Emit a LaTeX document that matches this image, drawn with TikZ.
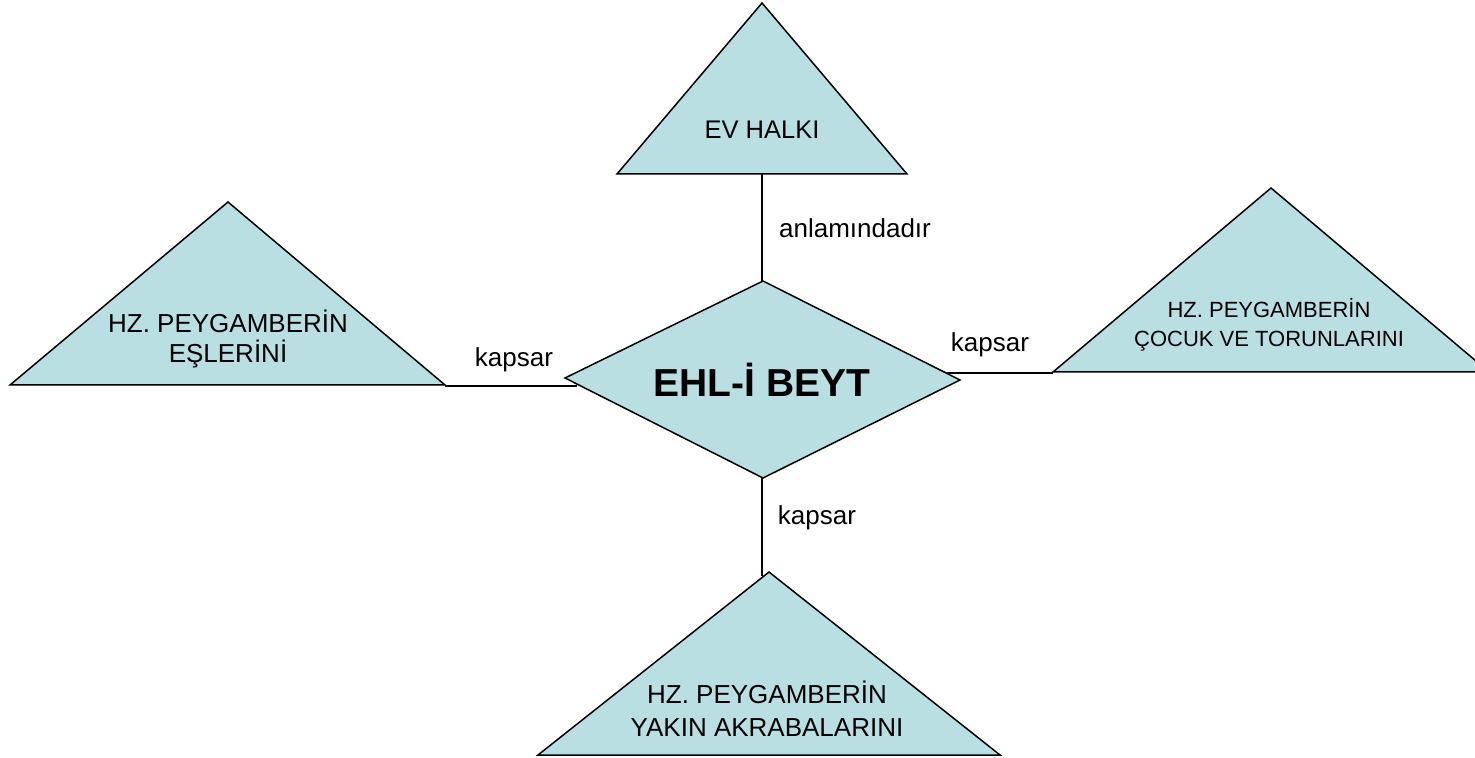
\documentclass[tikz,border=0pt]{standalone}
\usepackage{fontspec}
\setmainfont{Liberation Sans}
\definecolor{shapefill}{RGB}{185,223,227}
\begin{document}
\begin{tikzpicture}[x=0.5pt,y=-0.5pt,
  shp/.style={fill=shapefill,draw=black,line width=0.75pt,line join=miter},
  conn/.style={draw=black,line width=0.75pt},
  lbl/.style={font=\fontsize{13}{15.6}\selectfont,inner sep=0pt},
  txt/.style={align=center,inner sep=0pt}]
\useasboundingbox (0,0) rectangle (1475,758);
% top triangle
\draw[shp] (762,3) -- (907,174) -- (617,174) -- cycle;
\node[txt,font=\fontsize{12.75}{15}\selectfont] (evhalki) at (762,130) {EV HALKI};
% left triangle
\draw[shp] (228,202) -- (445,385) -- (10,385) -- cycle;
\node[txt,font=\fontsize{13}{15}\selectfont] (esler) at (228,339) {HZ. PEYGAMBERİN\\EŞLERİNİ};
% right triangle
\draw[shp] (1271,188) -- (1489,372) -- (1053,372) -- cycle;
\node[txt,font=\fontsize{11}{14.5}\selectfont] (cocuk) at (1269,325) {HZ. PEYGAMBERİN\\ÇOCUK VE TORUNLARINI};
% bottom triangle
\draw[shp] (769,572) -- (1000,755) -- (538,755) -- cycle;
\node[txt,font=\fontsize{13}{16.5}\selectfont] (akraba) at (767,709) {HZ. PEYGAMBERİN\\YAKIN AKRABALARINI};
% diamond
\draw[shp] (763,281) -- (960,380) -- (763,478) -- (565,378) -- cycle;
\node[txt,font=\bfseries\fontsize{19.5}{22}\selectfont] (ehl) at (762,380) {EHL-İ BEYT};
% connector end points
\coordinate (topA) at (762,174);
\coordinate (topB) at (762,281);
\coordinate (leftA) at (445,386);
\coordinate (leftB) at (577,386);
\coordinate (rightA) at (947,373);
\coordinate (rightB) at (1053,373);
\coordinate (botA) at (762,478);
\coordinate (botB) at (762,576);
\draw[conn] (topA) -- (topB);
\draw[conn] (leftA) -- (leftB);
\draw[conn] (rightA) -- (rightB);
\draw[conn] (botA) -- (botB);
% labels
\node[lbl] (l1) at (855,228) {anlamındadır};
\node[lbl] (l2) at (514,360) {kapsar};
\node[lbl] (l3) at (990,345) {kapsar};
\node[lbl] (l4) at (817,518) {kapsar};
\end{tikzpicture}
\end{document}
